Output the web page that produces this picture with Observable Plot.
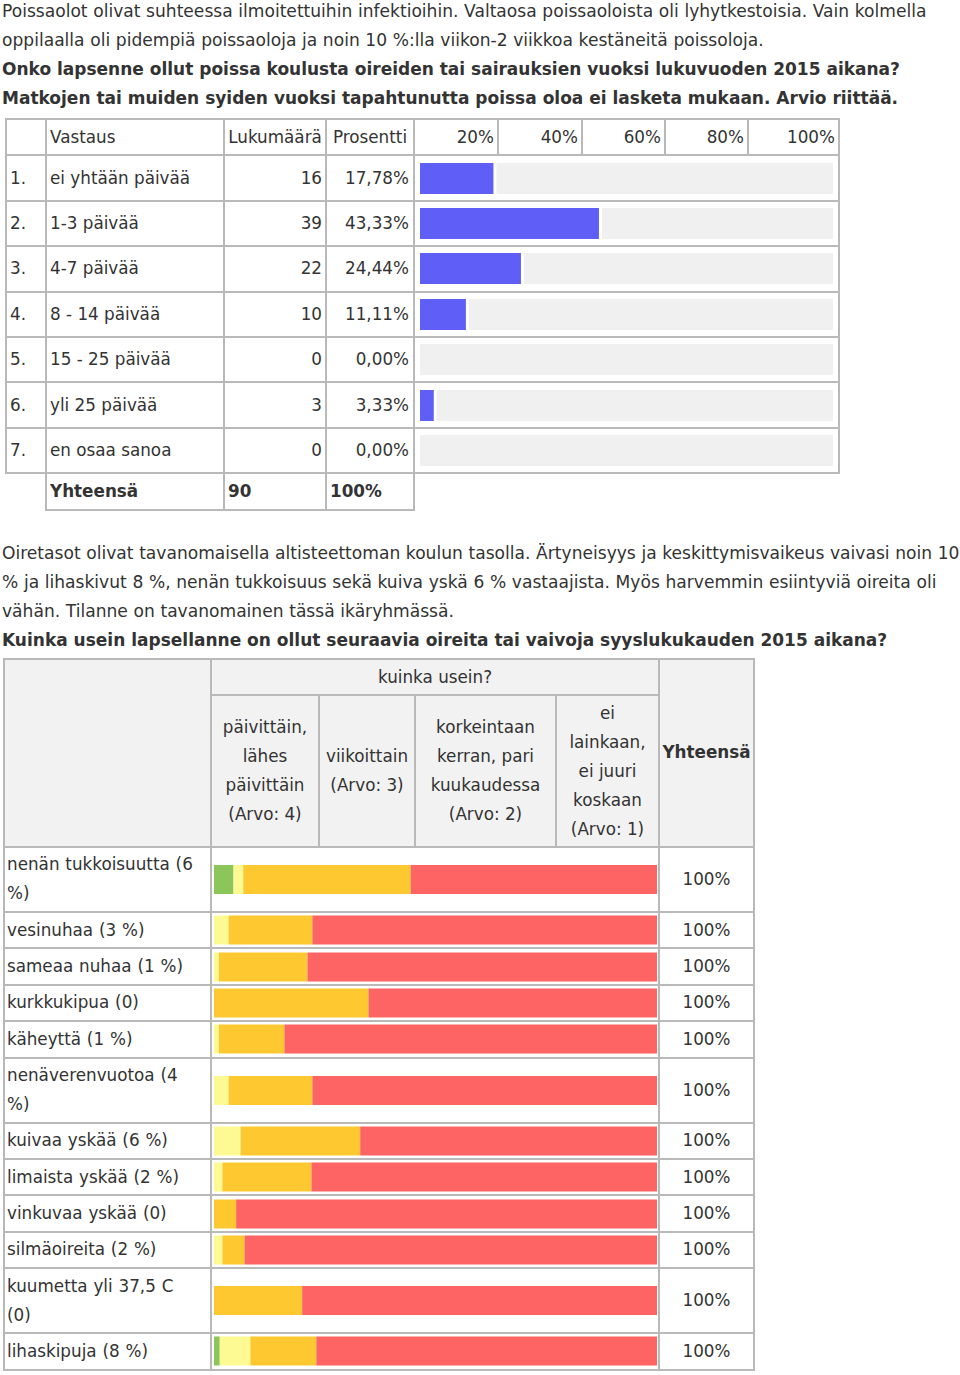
<!DOCTYPE html>
<html><head><meta charset="utf-8">
<script src="https://cdn.jsdelivr.net/npm/d3@7"></script>
<script src="https://cdn.jsdelivr.net/npm/@observablehq/plot@0.6"></script>
<style>
html,body{margin:0;padding:0;background:#fff;}
body{font-family:"DejaVu Sans",Verdana,sans-serif;font-size:16.8px;color:#333;}
#page{position:relative;width:960px;height:1375px;overflow:hidden;}
.txt{position:absolute;left:2px;line-height:29px;white-space:nowrap;font-size:17.1px;word-spacing:0.2px;}
.txt .b{font-size:17px;word-spacing:0;}
.b{font-weight:bold;}
table{position:absolute;border-collapse:collapse;table-layout:fixed;}
td,th{border:2px solid #b9b9b9;padding:0;font-weight:normal;overflow:hidden;line-height:29px;}
th.b,td.b{font-weight:bold;}
.l{text-align:left;padding-left:3px;}
.r{text-align:right;padding-right:3px;}
.c{text-align:center;}
.hd{background:#f2f2f2;text-align:center;vertical-align:middle;padding:0 4px;}
.lab{text-align:left;padding:2.5px 12px 2.5px 2px;vertical-align:middle;word-spacing:0.5px;}
td.bar,td.bar2{padding:0;}
td.bar svg,td.bar2 svg{display:block;}
</style></head>
<body><div id="page">
<div class="txt" style="top:-3px">Poissaolot olivat suhteessa ilmoitettuihin infektioihin. Valtaosa poissaoloista oli lyhytkestoisia. Vain kolmella<br>oppilaalla oli pidempiä poissaoloja ja noin 10 %:lla viikon-2 viikkoa kestäneitä poissoloja.<br><span class="b">Onko lapsenne ollut poissa koulusta oireiden tai sairauksien vuoksi lukuvuoden 2015 aikana?</span><br><span class="b">Matkojen tai muiden syiden vuoksi tapahtunutta poissa oloa ei lasketa mukaan. Arvio riittää.</span></div>
<div class="txt" style="top:539px">Oiretasot olivat tavanomaisella altisteettoman koulun tasolla. Ärtyneisyys ja keskittymisvaikeus vaivasi noin 10<br>% ja lihaskivut 8 %, nenän tukkoisuus sekä kuiva yskä 6 % vastaajista. Myös harvemmin esiintyviä oireita oli<br>vähän. Tilanne on tavanomainen tässä ikäryhmässä.<br><span class="b">Kuinka usein lapsellanne on ollut seuraavia oireita tai vaivoja syyslukukauden 2015 aikana?</span></div>
</div>
<script>
// ---------- Data: absence days ----------
const absenceCategories = ["ei yhtään päivää", "1-3 päivää", "4-7 päivää", "8 - 14 päivää", "15 - 25 päivää", "yli 25 päivää", "en osaa sanoa"];
const absenceCounts = [16, 39, 22, 10, 0, 3, 0];
const absencePercents = [17.78, 43.33, 24.44, 11.11, 0, 3.33, 0];
const absenceTicks = [20, 40, 60, 80, 100];
const absenceHeaders = ["Vastaus", "Lukumäärä", "Prosentti"];

// ---------- Data: symptoms ----------
const symptomLabels = ["nenän tukkoisuutta (6 %)", "vesinuhaa (3 %)", "sameaa nuhaa (1 %)", "kurkkukipua (0)", "käheyttä (1 %)", "nenäverenvuotoa (4 %)", "kuivaa yskää (6 %)", "limaista yskää (2 %)", "vinkuvaa yskää (0)", "silmäoireita (2 %)", "kuumetta yli 37,5 C (0)", "lihaskipuja (8 %)"];
const frequencyLevels = ["päivittäin, lähes päivittäin (Arvo: 4)", "viikoittain (Arvo: 3)", "korkeintaan kerran, pari kuukaudessa (Arvo: 2)", "ei lainkaan, ei juuri koskaan (Arvo: 1)"];
const dailyShare   = [4.4, 0, 0, 0, 0, 0, 0, 0, 0, 0, 0, 1.3];
const weeklyShare  = [2.2, 3.3, 1.1, 0, 1.1, 3.3, 6.0, 1.9, 0, 1.9, 0, 6.9];
const monthlyShare = [37.8, 18.9, 20.0, 34.9, 14.8, 18.9, 27.0, 20.1, 5.0, 5.0, 19.9, 14.9];
const neverShare   = [55.6, 77.8, 78.9, 65.1, 84.1, 77.8, 67.0, 78.0, 95.0, 93.1, 80.1, 76.9];
const symptomTotals = [100, 100, 100, 100, 100, 100, 100, 100, 100, 100, 100, 100];

// ---------- Styles ----------
const barBlue = "#5f5ff8";
const trackGray = "#f0f0f0";
const frequencyColors = ["#8cc65a", "#fdfa94", "#fec930", "#fe6464"];

const fmtPct = v => v.toFixed(2).replace(".", ",") + "%";
const page = document.getElementById("page");

// ---------- Table 1 ----------
const t1 = document.createElement("table");
t1.style.left = "5px"; t1.style.top = "118px";
let h1 = `<colgroup>${[40,178,102,88,84,84,83,83,91].map(w => `<col style="width:${w}px">`).join("")}</colgroup>`;
h1 += `<tr style="height:36.4px"><th></th><th class="l">${absenceHeaders[0]}</th><th class="c">${absenceHeaders[1]}</th><th class="c">${absenceHeaders[2]}</th>${absenceTicks.map(t => `<th class="r">${t}%</th>`).join("")}</tr>`;
absenceCategories.forEach((c, i) => {
  h1 += `<tr style="height:45.4px"><td class="l">${i + 1}.</td><td class="l">${c}</td><td class="r">${absenceCounts[i]}</td><td class="r" style="padding-right:4px">${fmtPct(absencePercents[i])}</td><td colspan="5" class="bar" id="ab${i}"></td></tr>`;
});
h1 += `<tr style="height:36.7px"><td style="border-left-style:hidden;border-bottom-style:hidden"></td><td class="l b">Yhteensä</td><td class="l b">${d3.sum(absenceCounts)}</td><td class="l b">${Math.round(d3.sum(absencePercents))}%</td><td colspan="5" style="border-right-style:hidden;border-bottom-style:hidden"></td></tr>`;
t1.innerHTML = h1;
page.appendChild(t1);

absenceCategories.forEach((c, i) => {
  const cell = document.getElementById("ab" + i);
  const w = cell.clientWidth, h = cell.clientHeight;
  const d = [{category: c, pct: absencePercents[i]}];
  const svg = Plot.plot({
    width: w, height: h,
    marginLeft: 5, marginRight: 5, marginTop: 6, marginBottom: 6,
    x: {domain: [0, 100], axis: null},
    marks: [
      Plot.barX(d.filter(r => r.pct > 0), {x1: "pct", x2: 100, fill: trackGray, insetLeft: 3, inset: 0}),
      Plot.barX(d.filter(r => r.pct === 0), {x1: 0, x2: 100, fill: trackGray, inset: 0}),
      Plot.barX(d, {x1: 0, x2: "pct", fill: barBlue, inset: 0})
    ]
  });
  cell.appendChild(svg);
});

// ---------- Table 2 ----------
const t2 = document.createElement("table");
t2.style.left = "3px"; t2.style.top = "658px";
let h2 = `<colgroup>${[207,108,96,141,103,95].map(w => `<col style="width:${w}px">`).join("")}</colgroup>`;
h2 += `<tr style="height:36.4px"><th rowspan="2" class="hd"></th><th colspan="4" class="hd">kuinka usein?</th><th rowspan="2" class="hd b" style="padding:0 2px">Yhteensä</th></tr>`;
h2 += `<tr style="height:151.6px">${frequencyLevels.map(l => `<th class="hd">${l}</th>`).join("")}</tr>`;
symptomLabels.forEach((s, i) => {
  h2 += `<tr style="height:36.4px"><td class="lab">${s}</td><td colspan="4" class="bar2" id="sb${i}"></td><td class="c">${symptomTotals[i]}%</td></tr>`;
});
t2.innerHTML = h2;
page.appendChild(t2);

const shares = [dailyShare, weeklyShare, monthlyShare, neverShare];
symptomLabels.forEach((s, i) => {
  const cell = document.getElementById("sb" + i);
  const w = cell.clientWidth, h = cell.clientHeight;
  const rows = frequencyLevels.map((lvl, k) => ({symptom: s, level: lvl, pct: shares[k][i]}));
  const m = (h - 29) / 2;
  const svg = Plot.plot({
    width: w, height: h,
    marginLeft: 2, marginRight: 1, marginTop: m, marginBottom: m,
    x: {domain: [0, 100], axis: null},
    color: {domain: frequencyLevels, range: frequencyColors},
    marks: [
      Plot.barX(rows, Plot.stackX({x: "pct", fill: "level", order: null, inset: 0}))
    ]
  });
  cell.appendChild(svg);
});
</script>
</body></html>
